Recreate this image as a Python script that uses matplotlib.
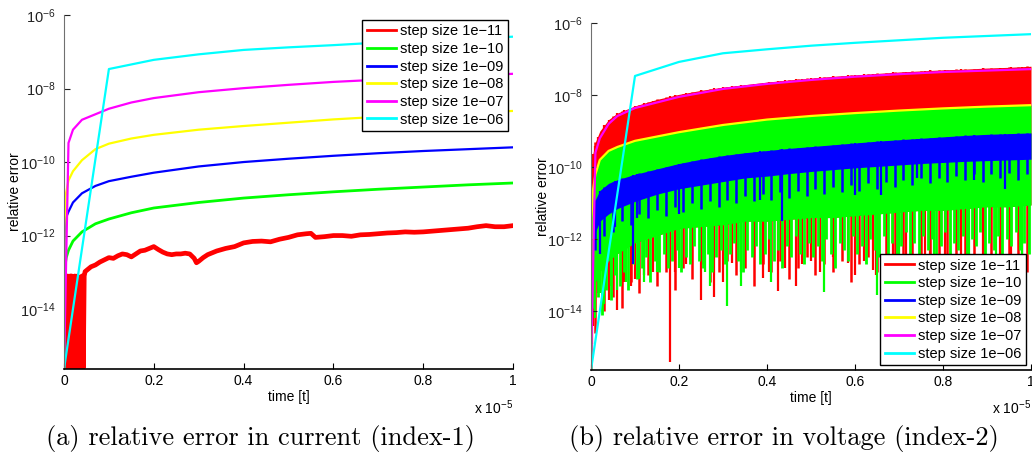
import numpy as np
import matplotlib.pyplot as plt
from matplotlib.ticker import FixedLocator, NullLocator

plt.rcParams['font.family'] = ['Liberation Sans', 'DejaVu Sans']
plt.rcParams['mathtext.fontset'] = 'custom'
plt.rcParams['mathtext.rm'] = 'Liberation Sans'
plt.rcParams['mathtext.it'] = 'Liberation Sans:italic'
plt.rcParams['axes.unicode_minus'] = True

# time is in units of 1e-5, errors stored as log10 exponents
labels = ['step size 1e\u221211', 'step size 1e\u221210', 'step size 1e\u221209',
          'step size 1e\u221208', 'step size 1e\u221207', 'step size 1e\u221206']
colors = ['#ff0000', '#00ff00', '#0000ff', '#ffff00', '#ff00ff', '#00ffff']
y_ticks = [-14, -12, -10, -8, -6]
x_ticks = [0, 0.2, 0.4, 0.6, 0.8, 1]
floor = -15.63

# ---- (a) current, index-1 ----
red_a_t = [0, 0.003, 0.005, 0.008, 0.011, 0.014, 0.017, 0.019, 0.021, 0.024, 0.027, 0.03,
           0.033, 0.035, 0.037, 0.04, 0.043, 0.045, 0.047, 0.06, 0.07, 0.08, 0.09, 0.1, 0.11,
           0.12, 0.13, 0.14, 0.15, 0.16, 0.17, 0.18, 0.19, 0.2, 0.21, 0.22, 0.23, 0.24, 0.25,
           0.26, 0.27, 0.28, 0.29, 0.295, 0.3, 0.31, 0.32, 0.33, 0.34, 0.36, 0.38, 0.4, 0.42,
           0.44, 0.46, 0.48, 0.5, 0.52, 0.54, 0.55, 0.56, 0.58, 0.6, 0.62, 0.64, 0.66, 0.68,
           0.7, 0.72, 0.74, 0.76, 0.78, 0.8, 0.82, 0.84, 0.86, 0.88, 0.9, 0.92, 0.94, 0.96,
           0.98, 1.0]
red_a_e = [floor, -13.1, -15.6, -13.1, -15.6, -13.1, -13.1, -15.6, -15.6, -13.1, -15.6, -13.1,
           -13.2, -15.6, -15.6, -13.1, -15.6, -13.1, -12.98, -12.85, -12.8, -12.72, -12.66,
           -12.6, -12.62, -12.55, -12.5, -12.52, -12.58, -12.5, -12.42, -12.4, -12.35, -12.3,
           -12.38, -12.45, -12.5, -12.52, -12.5, -12.5, -12.48, -12.5, -12.62, -12.74, -12.7,
           -12.6, -12.52, -12.47, -12.42, -12.35, -12.3, -12.2, -12.16, -12.15, -12.17, -12.1,
           -12.05, -11.98, -11.95, -11.94, -12.05, -12.03, -12.0, -12.0, -12.02, -11.98,
           -11.97, -11.95, -11.93, -11.92, -11.9, -11.91, -11.9, -11.88, -11.86, -11.84,
           -11.82, -11.8, -11.76, -11.73, -11.76, -11.76, -11.73]
green_a_t = [0, 0.00001, 0.002, 0.005, 0.01, 0.02, 0.04, 0.07, 0.1, 0.15, 0.2, 0.3, 0.4, 0.5,
             0.6, 0.7, 0.8, 0.9, 1.0]
green_a_e = [floor, -13.8, -12.85, -12.6, -12.4, -12.15, -11.9, -11.68, -11.55, -11.38, -11.25,
             -11.1, -10.98, -10.89, -10.81, -10.74, -10.68, -10.62, -10.57]
blue_a_t = [0, 0.0001, 0.002, 0.005, 0.01, 0.02, 0.04, 0.07, 0.1, 0.15, 0.2, 0.3, 0.4, 0.5,
            0.6, 0.7, 0.8, 0.9, 1.0]
blue_a_e = [floor, -12.8, -11.7, -11.5, -11.35, -11.1, -10.85, -10.65, -10.52, -10.4, -10.29,
            -10.12, -10.0, -9.91, -9.83, -9.76, -9.7, -9.65, -9.6]
yellow_a_t = [0, 0.001, 0.003, 0.01, 0.02, 0.04, 0.07, 0.1, 0.15, 0.2, 0.3, 0.4, 0.5, 0.6,
              0.7, 0.8, 0.9, 1.0]
yellow_a_e = [floor, -11.8, -10.95, -10.5, -10.25, -9.95, -9.65, -9.5, -9.36, -9.26, -9.12,
              -9.02, -8.93, -8.84, -8.77, -8.71, -8.66, -8.61]
magenta_a_t = [0, 0.01, 0.02, 0.04, 0.07, 0.1, 0.15, 0.2, 0.3, 0.4, 0.5, 0.6, 0.7, 0.8, 0.9, 1.0]
magenta_a_e = [floor, -9.48, -9.12, -8.85, -8.7, -8.55, -8.38, -8.26, -8.1, -7.99, -7.9, -7.82,
               -7.76, -7.7, -7.65, -7.6]
cyan_t = [0, 0.1, 0.2, 0.3, 0.4, 0.5, 0.6, 0.7, 0.8, 0.9, 1.0]
cyan_a_e = [floor, -7.47, -7.22, -7.07, -6.95, -6.88, -6.82, -6.75, -6.69, -6.64, -6.59]

# ---- (b) voltage, index-2 ----
cyan_b_e = [floor, -7.47, -7.08, -6.84, -6.73, -6.63, -6.55, -6.48, -6.41, -6.36, -6.31]
magenta_b_t = [0, 0.01, 0.02, 0.04, 0.06, 0.1, 0.2, 0.3, 0.4, 0.5, 0.6, 0.7, 0.8, 0.9, 1.0]
magenta_b_e = [floor, -9.6, -9.2, -8.8, -8.58, -8.36, -8.05, -7.83, -7.69, -7.58, -7.49, -7.42,
               -7.36, -7.32, -7.28]
yellow_b_t = [0, 0.001, 0.005, 0.01, 0.02, 0.04, 0.06, 0.1, 0.2, 0.3, 0.4, 0.5, 0.6, 0.7, 0.8,
              0.9, 1.0]
yellow_b_e = [floor, -11.4, -10.6, -10.2, -9.8, -9.55, -9.44, -9.27, -9.03, -8.83, -8.68,
              -8.58, -8.5, -8.43, -8.37, -8.32, -8.28]

band_t = [0.003, 0.01, 0.02, 0.04, 0.06, 0.1, 0.15, 0.2, 0.25, 0.3, 0.35, 0.4, 0.45, 0.5, 0.55,
          0.6, 0.65, 0.7, 0.75, 0.8, 0.85, 0.9, 0.95, 1.0]
red_b_top = [-9.7, -9.3, -9.0, -8.68, -8.5, -8.3, -8.12, -7.98, -7.87, -7.78, -7.71, -7.64,
             -7.58, -7.53, -7.48, -7.44, -7.4, -7.36, -7.33, -7.3, -7.28, -7.25, -7.23, -7.2]
green_b_top = [-11.0, -10.2, -9.8, -9.55, -9.44, -9.27, -9.13, -9.03, -8.92, -8.83, -8.75,
               -8.68, -8.63, -8.58, -8.54, -8.5, -8.46, -8.43, -8.4, -8.37, -8.34, -8.32,
               -8.3, -8.28]
green_b_low = [-14.0, -13.2, -12.9, -12.6, -12.4, -12.1, -11.9, -11.7, -11.65, -11.6, -11.5,
               -11.5, -11.45, -11.4, -11.4, -11.35, -11.3, -11.25, -11.2, -11.2, -11.15, -11.1,
               -11.1, -11.05]
blue_b_top = [-11.2, -10.9, -10.65, -10.45, -10.35, -10.2, -10.05, -9.9, -9.78, -9.68, -9.6,
              -9.54, -9.48, -9.43, -9.38, -9.33, -9.28, -9.24, -9.2, -9.16, -9.12, -9.09,
              -9.07, -9.05]
blue_b_low = [-12.5, -11.8, -11.5, -11.3, -11.15, -10.95, -10.75, -10.6, -10.5, -10.4, -10.3,
              -10.25, -10.18, -10.12, -10.07, -10.02, -9.98, -9.94, -9.9, -9.87, -9.84, -9.82,
              -9.8, -9.78]

# ragged lower edges of the noisy bands (one sample per column)
edge_fine_t = [round(0.005 + 0.01 * i, 3) for i in range(100)]
green_edge_e = [-13.9, -13.6, -14.1, -13.4, -13.7, -13.0, -13.3, -12.9, -13.4, -12.7,
                -13.1, -12.8, -12.5, -13.2, -12.6, -12.9, -12.4, -12.8, -12.6, -12.3,
                -12.9, -12.5, -12.7, -12.2, -12.6, -12.8, -12.4, -12.9, -12.5, -12.3,
                -12.7, -12.4, -12.1, -12.6, -12.9, -12.3, -12.5, -12.2, -12.7, -12.4,
                -12.0, -12.6, -12.3, -12.8, -12.2, -12.5, -11.9, -12.4, -12.7, -12.1,
                -12.5, -12.2, -12.6, -12.0, -12.4, -12.8, -12.1, -12.3, -12.6, -11.9,
                -12.4, -12.2, -12.7, -12.0, -12.3, -12.5, -11.9, -12.4, -12.1, -12.6,
                -12.2, -11.8, -12.4, -12.1, -12.5, -11.9, -12.3, -12.0, -12.6, -12.2,
                -11.8, -12.4, -12.1, -12.3, -11.9, -12.5, -12.0, -12.2, -11.8, -12.4,
                -12.1, -12.3, -11.9, -12.5, -12.0, -12.2, -11.8, -12.3, -12.1, -12.4]
edge_coarse_t = [round(0.01 + 0.02 * i, 3) for i in range(50)]
red_edge_e = [-14.6, -14.0, -13.6, -13.9, -13.2, -13.5, -13.0, -13.3, -12.9, -13.4,
              -12.8, -13.1, -12.7, -13.2, -12.9, -12.6, -13.0, -12.8, -13.3, -12.7,
              -12.9, -12.6, -13.1, -12.8, -12.5, -13.0, -12.7, -12.9, -12.6, -13.2,
              -12.7, -12.5, -12.9, -12.6, -13.0, -12.8, -12.5, -12.9, -12.7, -12.6,
              -12.9, -12.5, -12.8, -12.6, -13.0, -12.7, -12.5, -12.8, -12.6, -12.9]
blue_edge_e = [-12.3, -11.9, -11.8, -11.5, -11.6, -11.3, -11.4, -11.2, -11.35, -11.1,
               -11.25, -11.0, -11.15, -10.95, -11.1, -10.9, -11.0, -10.8, -10.95, -10.75,
               -10.9, -10.7, -10.85, -10.65, -10.8, -10.6, -10.75, -10.55, -10.7, -10.5,
               -10.65, -10.45, -10.6, -10.4, -10.55, -10.35, -10.5, -10.3, -10.45, -10.3,
               -10.4, -10.25, -10.35, -10.2, -10.4, -10.2, -10.3, -10.15, -10.35, -10.2]

# the deepest single spikes
red_spike_t = [0.002, 0.004, 0.008, 0.015, 0.03, 0.04, 0.06, 0.075, 0.09, 0.1, 0.12, 0.14,
               0.18, 0.19, 0.215, 0.25, 0.28, 0.3, 0.32, 0.34, 0.37, 0.39, 0.405, 0.425, 0.44,
               0.465, 0.48, 0.5, 0.52, 0.55, 0.585, 0.6, 0.62, 0.64, 0.648, 0.687, 0.717, 0.76,
               0.77, 0.805, 0.84, 0.89, 0.93, 0.955, 0.98]
red_spike_e = [-14.9, -14.4, -13.9, -13.5, -13.3, -13.7, -13.97, -13.2, -13.3, -13.1, -13.0,
               -12.9, -15.4, -12.9, -12.7, -13.7, -13.6, -13.2, -12.67, -12.9, -12.5, -13.08,
               -12.9, -13.45, -12.8, -13.3, -12.7, -12.6, -12.9, -12.5, -12.65, -13.0, -12.6,
               -12.85, -13.0, -13.0, -13.0, -13.0, -12.9, -13.0, -12.8, -13.0, -13.0, -13.0,
               -12.8]
green_spike_t = [0.01, 0.02, 0.03, 0.045, 0.06, 0.08, 0.11, 0.12, 0.15, 0.2, 0.26, 0.27, 0.31,
                 0.34, 0.41, 0.53, 0.65, 0.7, 0.78, 0.86, 0.92, 0.98]
green_spike_e = [-14.2, -13.5, -13.8, -13.3, -13.4, -13.2, -13.1, -13.2, -12.9, -12.8, -12.9,
                 -13.3, -13.85, -13.3, -13.2, -13.47, -13.55, -12.6, -12.6, -12.6, -12.6, -12.6]
blue_spike_t = [0.02, 0.055, 0.095, 0.105, 0.2, 0.383, 0.435, 0.6, 0.66, 0.74, 0.87, 0.94]
blue_spike_e = [-12.4, -11.67, -12.7, -11.4, -11.3, -10.9, -11.5, -10.77, -10.78, -10.3,
                -10.35, -10.6]


def p(e):
    return 10.0 ** np.asarray(e)


def style(ax):
    ax.set_yscale('log')
    ax.set_xlim(0, 1)
    ax.set_ylim(10 ** floor, 1e-6)
    ax.yaxis.set_major_locator(FixedLocator(p(y_ticks)))
    ax.yaxis.set_minor_locator(NullLocator())
    ax.set_yticklabels([r'$10^{%d}$' % e for e in y_ticks], fontsize=10.5)
    ax.set_xticks(x_ticks)
    ax.set_xticklabels(['0', '0.2', '0.4', '0.6', '0.8', '1'], fontsize=10)
    ax.tick_params(direction='in', length=4, width=0.8)
    ax.tick_params(axis='y', pad=6, colors='#222222')
    ax.spines['top'].set_visible(False)
    ax.spines['right'].set_visible(False)
    ax.spines['left'].set_color('#707070')
    ax.spines['bottom'].set_color('black')
    ax.spines['bottom'].set_linewidth(1.2)
    ax.text(-0.109, 0.5, 'relative error', rotation=90, ha='center', va='center',
            fontsize=10, transform=ax.transAxes)
    ax.text(0.5, -0.06, 'time [t]', ha='center', va='top', fontsize=10,
            transform=ax.transAxes)
    ax.text(1.0, -0.082, r'x 10$^{-5}$', ha='right', va='top', fontsize=10,
            transform=ax.transAxes)


def band(ax, top, low, spikes, col, z):
    # filled envelope, then vertical spikes hanging down from its top
    ax.fill_between(band_t, p(low), p(top), color=col, lw=0, zorder=z)
    for st, se, w in spikes:
        ax.vlines(st, p(se), p(np.interp(st, band_t, top)), color=col, lw=w, zorder=z + 0.05)


fig = plt.figure(figsize=(10.32, 4.55), dpi=100)
ax1 = fig.add_axes([64 / 1032, 1 - 369 / 455, 449 / 1032, 354 / 455])
ax2 = fig.add_axes([591 / 1032, 1 - 370 / 455, 440 / 1032, 347 / 455])

lw = 1.6
ax1.plot(red_a_t, p(red_a_e), color=colors[0], lw=3.4, label=labels[0])
ax1.plot(green_a_t, p(green_a_e), color=colors[1], lw=lw + 0.4, label=labels[1])
ax1.plot(blue_a_t, p(blue_a_e), color=colors[2], lw=lw, label=labels[2])
ax1.plot(yellow_a_t, p(yellow_a_e), color=colors[3], lw=lw, label=labels[3])
ax1.plot(magenta_a_t, p(magenta_a_e), color=colors[4], lw=lw, label=labels[4])
ax1.plot(cyan_t, p(cyan_a_e), color=colors[5], lw=lw, label=labels[5])

# (b) noisy bands: red, green, blue
band(ax2, red_b_top, green_b_low,
     [(edge_coarse_t, red_edge_e, 1.8), (red_spike_t, red_spike_e, 1.6)], colors[0], 1.0)
ax2.plot([0, 0.003], p([floor, red_b_top[0]]), color=colors[0], lw=2, zorder=1.0)
band(ax2, green_b_top, green_b_low,
     [(edge_fine_t, green_edge_e, 2.0), (green_spike_t, green_spike_e, 1.6)], colors[1], 1.2)
ax2.plot([0, 0.003], p([floor, green_b_top[0]]), color=colors[1], lw=2, zorder=1.2)
band(ax2, blue_b_top, blue_b_low,
     [(edge_coarse_t, blue_edge_e, 1.8), (blue_spike_t, blue_spike_e, 1.6)], colors[2], 1.4)
ax2.plot([], [], color=colors[0], lw=lw, label=labels[0])
ax2.plot([], [], color=colors[1], lw=lw, label=labels[1])
ax2.plot([], [], color=colors[2], lw=lw, label=labels[2])
ax2.plot(yellow_b_t, p(yellow_b_e), color=colors[3], lw=lw, label=labels[3], zorder=2)
ax2.plot(magenta_b_t, p(magenta_b_e), color=colors[4], lw=lw, label=labels[4], zorder=2)
ax2.plot(cyan_t, p(cyan_b_e), color=colors[5], lw=lw, label=labels[5], zorder=2)

for ax in (ax1, ax2):
    style(ax)

leg_kw = dict(fontsize=10.5, frameon=True, fancybox=False, framealpha=1, edgecolor='black',
              borderaxespad=0, labelspacing=0.25, handlelength=2.0, handletextpad=0.3,
              borderpad=0.3)
l1 = ax1.legend(loc='upper right', bbox_to_anchor=(0.989, 0.986), **leg_kw)
l2 = ax2.legend(loc='lower right', bbox_to_anchor=(0.989, 0.014), **leg_kw)
for leg in (l1, l2):
    leg.get_frame().set_linewidth(1.0)
    leg.set_zorder(10)
    for h in leg.get_lines():
        h.set_linewidth(2.0)

fig.text(260 / 1032, 1 - 438 / 455, '(a) relative error in current (index-1)',
         family='cmr10', fontsize=19, ha='center', va='center')
fig.text(784 / 1032, 1 - 438 / 455, '(b) relative error in voltage (index-2)',
         family='cmr10', fontsize=19, ha='center', va='center')

fig.savefig('out.png', dpi=100)
